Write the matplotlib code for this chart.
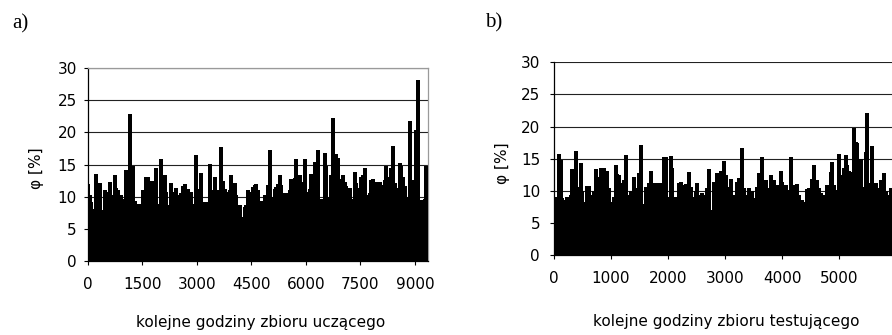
import numpy as np
import matplotlib
matplotlib.use("Agg")
import matplotlib.pyplot as plt

plt.rcParams['font.family'] = ['DejaVu Sans']
plt.rcParams['font.size'] = 11

# ---- data (upper envelope of hourly errors) ----
phi_a = [
    11.9, 10.2, 9.2, 7.6, 8.1, 13.6, 8.4, 12.2, 7.9, 7.5,
    11.1, 10.8, 8.7, 12.3, 7.4, 10.2, 13.4, 11.3, 11.0, 8.9,
    10.2, 9.7, 7.6, 14.1, 12.9, 22.9, 8.7, 14.8, 9.4, 8.9,
    8.1, 8.9, 6.8, 11.0, 10.7, 13.1, 13.1, 10.2, 12.5, 11.3,
    12.5, 14.5, 8.1, 8.9, 15.9, 11.8, 13.3, 10.7, 8.4, 8.7,
    12.2, 10.7, 9.6, 11.3, 9.6, 10.2, 10.5, 11.7, 11.9, 10.7,
    11.2, 10.7, 10.8, 8.9, 8.7, 16.4, 11.2,
    11.2, 13.7, 9.2, 8.9, 9.2, 9.2, 15.1, 10.2, 11.0, 13.1,
    9.2, 11.1, 10.2, 17.7, 12.5, 11.2, 10.7, 10.7, 11.0, 13.3,
    12.0, 12.2, 10.2, 8.1, 8.7, 6.8, 6.6, 8.4, 8.7, 11.0,
    10.7, 10.2, 11.5, 11.8, 11.9, 11.1, 8.7, 9.4, 9.3, 10.3,
    9.7, 11.8, 17.2, 9.7, 9.9, 11.2, 11.5, 12.0, 13.3, 11.8,
    10.5, 9.7, 10.5, 9.9, 11.0, 12.8, 12.8, 12.9, 15.9, 11.8,
    13.3, 12.3, 11.5, 15.8, 10.5, 10.7, 11.2, 13.6,
    13.6, 15.4, 10.0, 17.3, 8.7, 9.7, 8.7, 16.8, 14.7, 10.0,
    9.5, 13.4, 22.2, 10.0, 16.7, 16.0, 11.6, 12.8, 13.4, 12.3,
    11.6, 10.0, 11.3, 9.7, 9.0, 13.9, 12.1, 10.5, 11.3, 13.1,
    13.4, 14.4, 10.3, 10.3, 10.5, 12.6, 12.8, 10.8, 12.3, 11.3,
    12.3, 10.8, 11.8, 12.6, 14.8, 12.1, 13.1, 14.4, 17.9, 12.1,
    11.3, 10.5, 15.2, 14.7, 13.1, 11.6, 10.0, 7.2, 21.7, 10.0,
    12.6, 11.6, 20.4, 28.1, 9.5, 9.2, 9.5, 9.7, 14.7,
]
phi_b = [
    8.8, 8.8, 9.1, 15.8, 14.8, 8.8, 8.6, 5.7, 9.1, 4.9,
    9.4, 13.4, 11.7, 16.2, 10.6, 10.4, 14.3, 9.9, 8.3, 8.3,
    10.8, 10.8, 9.3, 8.4, 9.9, 13.4, 9.3, 12.2, 13.6, 12.2,
    13.6, 13.1, 13.0, 10.4, 8.3, 7.0, 9.1, 14.0, 12.6, 12.5,
    11.0, 11.2, 11.7, 15.6, 9.3, 9.1, 9.9, 8.8, 12.2, 10.4,
    7.0, 12.7, 17.1, 6.5, 8.0, 10.6, 9.9, 11.2, 13.1, 11.2,
    9.3, 11.2, 7.8, 11.2, 11.2, 7.8, 15.3,
    15.2, 8.3, 9.1, 15.4, 13.5, 9.1, 7.8, 9.1, 11.2, 11.3,
    10.1, 10.9, 11.0, 9.9, 12.9, 10.6, 7.8, 9.1, 9.9, 11.2,
    9.3, 6.5, 9.6, 8.8, 9.3, 10.4, 13.4, 7.0, 6.7, 11.4,
    9.3, 12.7, 10.6, 13.0, 10.9, 14.6, 12.5, 10.6, 9.1, 11.9,
    7.8, 9.3, 9.3, 11.4, 12.0, 11.2, 16.6, 10.4, 9.3, 7.3,
    10.4, 8.6, 9.9, 7.8, 8.8, 10.6, 12.7, 12.7, 15.3, 9.9,
    11.7, 8.8, 10.4, 12.5, 9.3, 11.7, 9.3, 10.9,
    9.3, 13.0, 11.4, 8.3, 10.9, 10.1, 9.9, 15.2, 8.8, 10.9,
    8.3, 11.0, 9.3, 8.3, 8.6, 8.0, 8.3, 10.2, 10.4, 10.1,
    11.8, 14.0, 10.4, 11.7, 10.4, 9.6, 8.3, 9.3, 9.3, 10.9,
    9.9, 12.9, 14.5, 10.9, 9.9, 10.1, 15.7, 10.6, 12.5, 13.5,
    15.6, 14.0, 13.0, 12.9, 12.7, 19.7, 17.6, 17.4, 12.5, 15.0,
    10.6, 10.1, 16.1, 22.1, 11.2, 11.2, 16.9, 10.6, 11.2, 9.3,
    10.4, 11.7, 10.9, 12.7, 9.9, 9.3, 8.8, 10.4, 8.8,
]
STEP_A = 45.87   # hours between sampled envelope values
STEP_B = 29.24
xticks_a = [0, 1500, 3000, 4500, 6000, 7500, 9000]
xticks_b = [0, 1000, 2000, 3000, 4000, 5000]
yticks = [0, 5, 10, 15, 20, 25, 30]
xlabel_a = "kolejne godziny zbioru uczącego"
xlabel_b = "kolejne godziny zbioru testującego"
ylabel = "φ [%]"

hours_a = np.arange(len(phi_a)) * STEP_A
hours_b = np.arange(len(phi_b)) * STEP_B

W, H = 892, 335
fig = plt.figure(figsize=(W / 100, H / 100), dpi=100)
ax_a = fig.add_axes([88 / W, 74 / H, 340 / W, 193 / H])
ax_b = fig.add_axes([554 / W, 80 / H, 342 / W, 192.7 / H])

for ax, hrs, vals, xt, xmax, xl, ypad, xlc, ylc in (
        (ax_a, hours_a, phi_a, xticks_a, 9360, xlabel_a, 5, (0.509, -0.321), (-0.15, 0.48)),
        (ax_b, hours_b, phi_b, xticks_b, 6000, xlabel_b, 7, (0.505, -0.346), (-0.15, 0.477))):
    ax.vlines(hrs, 0, vals, colors='black', linewidth=1.6, antialiased=False, zorder=3)
    ax.set_xlim(0, xmax)
    ax.set_ylim(0, 30)
    ax.set_xticks(xt)
    ax.set_yticks(yticks)
    ax.set_yticklabels([str(v) for v in yticks])
    ax.set_xticklabels([str(v) for v in xt])
    ax.yaxis.grid(True, color='#222222', linewidth=0.8, zorder=1)
    ax.set_axisbelow(True)
    ax.tick_params(axis='both', direction='out', length=3, width=0.8, color='black', labelsize=11)
    ax.tick_params(axis='x', pad=8.5)
    ax.tick_params(axis='y', pad=ypad)
    for s in ('left', 'bottom'):
        ax.spines[s].set_color('black')
        ax.spines[s].set_linewidth(0.9)
    ax.set_xlabel(xl, fontsize=11, va='center')
    ax.xaxis.set_label_coords(*xlc)
    ax.set_ylabel(ylabel, fontsize=11, va='center')
    ax.yaxis.set_label_coords(*ylc)

ax_a.spines['top'].set_color('#9a9a9a')
ax_a.spines['right'].set_color('#9a9a9a')
ax_a.spines['top'].set_linewidth(0.9)
ax_a.spines['right'].set_linewidth(0.9)
ax_b.spines['top'].set_visible(False)
ax_b.spines['right'].set_visible(False)

fig.text(20 / W, 1 - 24 / H, "a)", family='Liberation Serif', fontsize=15, ha='center', va='center')
fig.text(494 / W, 1 - 23 / H, "b)", family='Liberation Serif', fontsize=15, ha='center', va='center')

fig.savefig("out.png", dpi=100)
